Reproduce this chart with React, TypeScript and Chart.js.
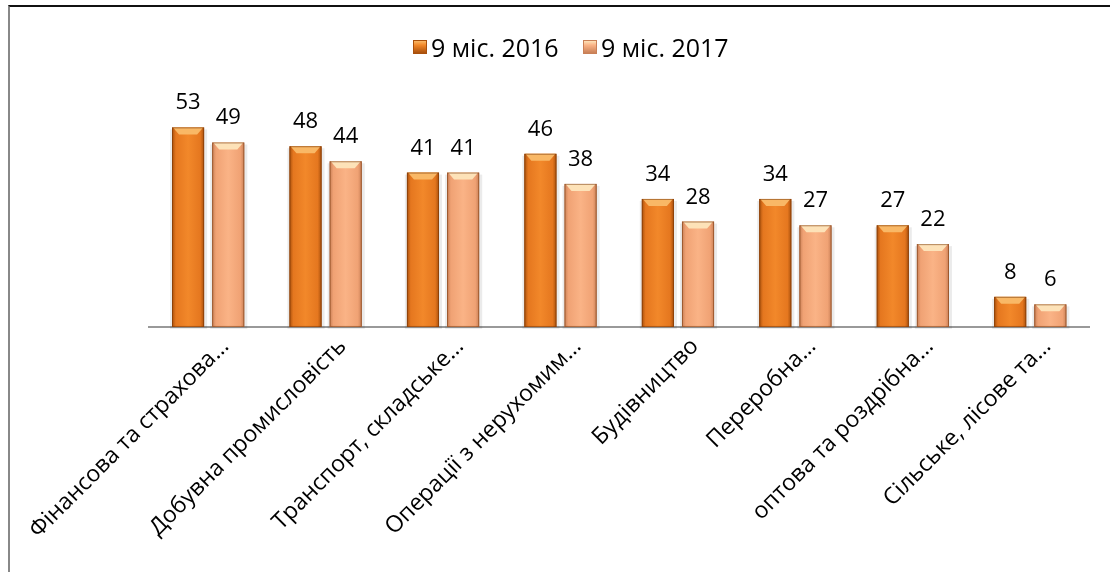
import React, { useEffect, useRef } from "react";
import { Chart, registerables } from "chart.js";

Chart.register(...registerables);

const categories = [
  "Фінансова та страхова…",
  "Добувна промисловість",
  "Транспорт, складське…",
  "Операції з нерухомим…",
  "Будівництво",
  "Переробна…",
  "оптова та роздрібна…",
  "Сільське, лісове та…",
];
const series2016 = [53, 48, 41, 46, 34, 34, 27, 8];
const series2017 = [49, 44, 41, 38, 28, 27, 22, 6];
const seriesNames = ["9 міс. 2016", "9 міс. 2017"];

const FONT = "'Open Sans', 'Noto Sans', sans-serif";

const palettes = [
  { edge: "#a9500c", mid: "#f2882a", top: "#f9b866", base: "#e5771f" },
  { edge: "#c98057", mid: "#fab386", top: "#fde2b8", base: "#f0a274" },
];

const bevelPlugin = {
  id: "bevelBars",
  afterDatasetsDraw(chart: any) {
    const ctx = chart.ctx as CanvasRenderingContext2D;
    chart.data.datasets.forEach((_: any, di: number) => {
      const meta = chart.getDatasetMeta(di);
      const pal = palettes[di];
      meta.data.forEach((el: any) => {
        const { x, y, base, width } = el.getProps(["x", "y", "base", "width"], true);
        const l = x - width / 2;
        const r = x + width / 2;
        const h = base - y;
        ctx.save();
        ctx.fillStyle = "rgba(0,0,0,0.08)";
        ctx.fillRect(l - 2, y + 2, width + 5, h);
        const g = ctx.createLinearGradient(l, 0, r, 0);
        g.addColorStop(0, pal.edge);
        g.addColorStop(0.12, pal.base);
        g.addColorStop(0.5, pal.mid);
        g.addColorStop(0.88, pal.base);
        g.addColorStop(1, pal.edge);
        ctx.fillStyle = g;
        ctx.fillRect(l, y, width, h);
        const b = Math.min(7, h / 2);
        ctx.fillStyle = pal.top;
        ctx.beginPath();
        ctx.moveTo(l + 1, y);
        ctx.lineTo(r - 1, y);
        ctx.lineTo(r - b, y + b);
        ctx.lineTo(l + b, y + b);
        ctx.closePath();
        ctx.fill();
        ctx.strokeStyle = "rgba(110,45,0,0.5)";
        ctx.lineWidth = 1;
        ctx.strokeRect(l + 0.5, y + 0.5, width - 1, h - 1);
        ctx.restore();
      });
    });
  },
};

const valueLabelPlugin = {
  id: "valueLabels",
  afterDatasetsDraw(chart: any) {
    const ctx = chart.ctx as CanvasRenderingContext2D;
    ctx.save();
    ctx.font = `22px ${FONT}`;
    ctx.fillStyle = "#000";
    ctx.textAlign = "center";
    ctx.textBaseline = "alphabetic";
    chart.data.datasets.forEach((ds: any, di: number) => {
      const meta = chart.getDatasetMeta(di);
      meta.data.forEach((el: any, i: number) => {
        const { x, y } = el.getProps(["x", "y"], true);
        ctx.fillText(String(ds.data[i]), x, y - 18);
      });
    });
    ctx.restore();
  },
};

const legendItem = (left: number, name: string, pal: { edge: string; mid: string; top: string }) => (
  <div key={name} style={{ position: "absolute", left, top: 31, height: 32, display: "flex", alignItems: "center", whiteSpace: "nowrap" }}>
    <div
      style={{
        width: 14,
        height: 14,
        marginRight: 4,
        boxSizing: "border-box",
        border: `1px solid ${pal.edge}`,
        background: `linear-gradient(to bottom, ${pal.top} 0%, ${pal.mid} 35%, ${pal.edge} 100%)`,
      }}
    />
    <span style={{ fontFamily: FONT, fontSize: 25, color: "#000", lineHeight: "32px" }}>{name}</span>
  </div>
);

export default function App() {
  const ref = useRef<HTMLCanvasElement>(null);
  useEffect(() => {
    const chart = new Chart(ref.current!, {
      type: "bar",
      data: {
        labels: categories,
        datasets: [
          { label: seriesNames[0], data: series2016, backgroundColor: palettes[0].base, borderColor: "#a84e0a", borderWidth: 1 },
          { label: seriesNames[1], data: series2017, backgroundColor: palettes[1].base, borderColor: "#b9734a", borderWidth: 1 },
        ],
      },
      options: {
        animation: false,
        responsive: false,
        maintainAspectRatio: false,
        datasets: { bar: { categoryPercentage: 0.684, barPercentage: 0.8 } },
        layout: { padding: { left: 138, right: 21, top: 78, bottom: 30 } },
        plugins: {
          legend: { display: false },
          tooltip: { enabled: false },
        },
        scales: {
          x: {
            grid: { display: false },
            border: { display: true, color: "#999", width: 2 },
            ticks: {
              minRotation: 45,
              maxRotation: 45,
              color: "#000",
              font: { family: FONT, size: 23 },
              padding: -2,
              labelOffset: 17,
            },
          },
          y: { display: false, min: 0, max: 64 },
        },
      },
      plugins: [bevelPlugin, valueLabelPlugin],
    });
    return () => chart.destroy();
  }, []);
  return (
    <div style={{ position: "fixed", left: 0, top: 0, width: 1110, height: 572, background: "#fff", overflow: "hidden" }}>
      <div style={{ position: "absolute", left: 8, top: 5, right: -10, bottom: -10, borderTop: "2px solid #111", borderLeft: "2px solid #888" }} />
      <canvas ref={ref} width={1100} height={564} style={{ position: "absolute", left: 10, top: 8 }} />
      {legendItem(413, seriesNames[0], palettes[0])}
      {legendItem(583, seriesNames[1], palettes[1])}
    </div>
  );
}
